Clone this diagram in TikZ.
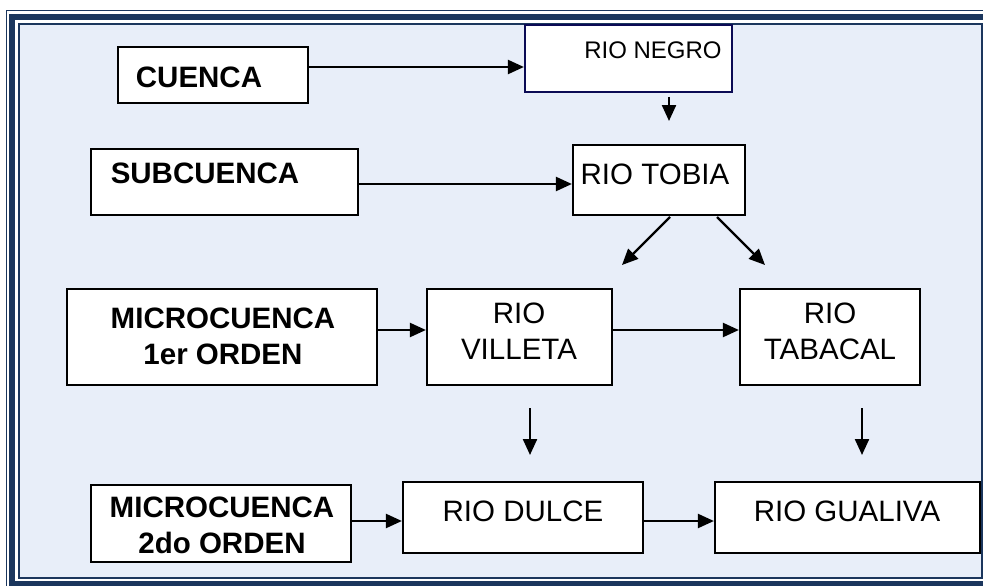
\documentclass[tikz,border=0pt]{standalone}
\usepackage{fontspec}
\setmainfont{Liberation Sans}
\usetikzlibrary{arrows.meta}
\definecolor{navy}{HTML}{1B365D}
\definecolor{paleblue}{HTML}{E8EEF9}
\definecolor{boxnavy}{HTML}{0B0B55}
\tikzset{
  box/.style={draw=black, line width=2.2pt, fill=white, rectangle, inner sep=0pt},
  lbl/.style={inner sep=0pt, font=\fontsize{29.5}{36}\selectfont, align=center},
  blbl/.style={lbl, font=\fontsize{29.5}{36}\selectfont\bfseries},
  arr/.style={line width=2.3pt, -{Triangle[length=16pt,width=14pt]}},
}
\begin{document}
\begin{tikzpicture}[x=1pt,y=-1pt]
\useasboundingbox (0,0) rectangle (983,586);
\begin{scope}
\clip (0,0) rectangle (983,586);
\fill[paleblue] (19,24) rectangle (982,578);
\draw[navy, line width=2pt] (19,24) rectangle (982,578);
\draw[navy, line width=6pt] (12,17.5) rectangle (989,584);
\draw[navy, line width=1.5pt] (6.5,10.5) rectangle (995,590);
\end{scope}

% boxes
\node[box, minimum width=190pt, minimum height=56pt] (cuenca) at (213,75) {};
\node[box, draw=boxnavy, minimum width=207pt, minimum height=67pt] (negro) at (628.5,58.5) {};
\node[box, minimum width=267pt, minimum height=66pt] (sub) at (224.5,182) {};
\node[box, minimum width=172pt, minimum height=70pt] (tobia) at (659,180) {};
\node[box, minimum width=310pt, minimum height=96pt] (micro1) at (222,337) {};
\node[box, minimum width=185pt, minimum height=96pt] (villeta) at (519.5,337) {};
\node[box, minimum width=180pt, minimum height=96pt] (tabacal) at (830,337) {};
\node[box, minimum width=260pt, minimum height=77pt] (micro2) at (221,523.5) {};
\node[box, minimum width=240pt, minimum height=71pt] (dulce) at (523,517.5) {};
\node[box, minimum width=265pt, minimum height=71pt] (gualiva) at (847.5,517.5) {};

% labels
\node[blbl] (tcuenca) at (199,77) {CUENCA};
\node[lbl, font=\fontsize{24}{30}\selectfont] (tnegro) at (653,50.5) {RIO NEGRO};
\node[blbl] (tsub) at (205,173) {SUBCUENCA};
\node[lbl] (ttobia) at (655,174) {RIO TOBIA};
\node[blbl] (tmicro1) at (223,336) {MICROCUENCA\\1er ORDEN};
\node[lbl] (tvilleta) at (519,331) {RIO\\VILLETA};
\node[lbl] (ttabacal) at (830,331) {RIO\\TABACAL};
\node[blbl] (tmicro2) at (222,525) {MICROCUENCA\\2do ORDEN};
\node[lbl] (tdulce) at (523,511) {RIO DULCE};
\node[lbl] (tgualiva) at (847,511) {RIO GUALIVA};

% free ends
\coordinate (n1) at (669,97);
\coordinate (n2) at (669,121);
\coordinate (d1s) at (670,217);
\coordinate (d1e) at (622,265);
\coordinate (d2s) at (717,217);
\coordinate (d2e) at (765,265);
\coordinate (v1) at (530,408);
\coordinate (v2) at (530,455);
\coordinate (t1) at (862,408);
\coordinate (t2) at (862,455);

% connectors
\draw[arr] (cuenca.east |- 0,67) -- (negro.west |- 0,67);
\draw[arr] (n1) -- (n2);
\draw[arr] (sub.east |- 0,184) -- (tobia.west |- 0,184);
\draw[arr] (d1s) -- (d1e);
\draw[arr] (d2s) -- (d2e);
\draw[arr] (micro1.east |- 0,330) -- (villeta.west |- 0,330);
\draw[arr] (villeta.east |- 0,330) -- (tabacal.west |- 0,330);
\draw[arr] (v1) -- (v2);
\draw[arr] (t1) -- (t2);
\draw[arr] (micro2.east |- 0,521) -- (dulce.west |- 0,521);
\draw[arr] (dulce.east |- 0,521) -- (gualiva.west |- 0,521);
\end{tikzpicture}
\end{document}
